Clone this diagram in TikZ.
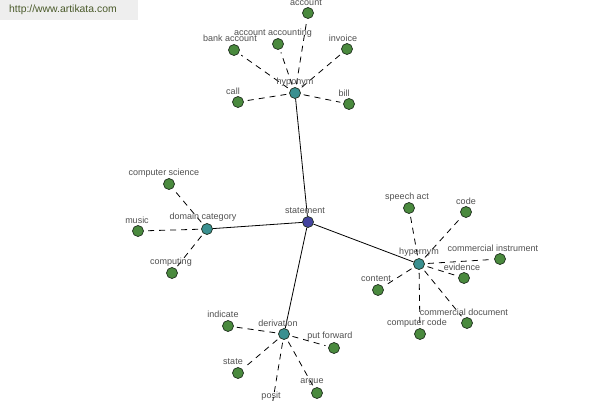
\documentclass[tikz,border=0pt]{standalone}
\usepackage{fontspec}
\setmainfont{Liberation Sans}
\definecolor{leafc}{HTML}{4A8A3E}
\definecolor{hubc}{HTML}{3A9090}
\definecolor{rootc}{HTML}{4444A0}
\definecolor{edgec}{HTML}{1E2E1E}
\definecolor{txtc}{HTML}{505050}
\definecolor{wmbg}{HTML}{EEEEEE}
\definecolor{wmtxt}{HTML}{4A5A2A}
\tikzset{
  leaf/.style={circle,draw=edgec,line width=0.7pt,fill=leafc,minimum size=11pt,inner sep=0pt},
  hub/.style={leaf,fill=hubc},
  root/.style={leaf,fill=rootc},
  lbl/.style={font=\fontsize{9}{10}\selectfont,text=txtc,inner sep=0pt},
  solidedge/.style={draw=black,line width=0.8pt},
  dashedge/.style={draw=black,line width=0.8pt,dash pattern=on 6pt off 5pt,shorten <=3pt,shorten >=3pt}
}
\begin{document}
\begin{tikzpicture}[x=1pt,y=-1pt]
\useasboundingbox (0,0) rectangle (600,400);
\clip (0,0) rectangle (600,400);
\fill[white] (0,0) rectangle (600,400);
% watermark
\node[fill=wmbg,minimum width=138pt,minimum height=20pt,inner sep=0pt,anchor=north west] (wm) at (0,0) {};
\node[font=\fontsize{10.4}{11}\selectfont,text=wmtxt,anchor=west,inner sep=0pt] (wmt) at (9,10) {http://www.artikata.com};
% nodes
\node[root] (statement) at (308,222) {};
\node[hub] (hyponym) at (295,93) {};
\node[leaf] (account) at (308,13) {};
\node[leaf] (accacc) at (278,44) {};
\node[leaf] (bankacc) at (234,50) {};
\node[leaf] (invoice) at (347,49) {};
\node[leaf] (call) at (238,102) {};
\node[leaf] (bill) at (349,104) {};
\node[hub] (domcat) at (207,229) {};
\node[leaf] (compsci) at (169,184) {};
\node[leaf] (music) at (138,231) {};
\node[leaf] (computing) at (172,273) {};
\node[hub] (hypernym) at (419,264) {};
\node[leaf] (speech) at (409,208) {};
\node[leaf] (code) at (466,212) {};
\node[leaf] (cominst) at (500,259) {};
\node[leaf] (evidence) at (464,278) {};
\node[leaf] (content) at (378,290) {};
\node[leaf] (comdoc) at (467,323) {};
\node[leaf] (compcode) at (420,334) {};
\node[hub] (derivation) at (284,334) {};
\node[leaf] (indicate) at (228,326) {};
\node[leaf] (putfwd) at (334,348) {};
\node[leaf] (state) at (238,373) {};
\node[leaf] (argue) at (317,393) {};
\node[leaf] (posit) at (271,412) {};
% edges
\path[solidedge] (statement) -- (hyponym);
\path[solidedge] (statement) -- (domcat);
\path[solidedge] (statement) -- (hypernym);
\path[solidedge] (statement) -- (derivation);
\foreach \t in {account,accacc,bankacc,invoice,call,bill}
  \path[dashedge] (hyponym) -- (\t);
\foreach \t in {compsci,music,computing}
  \path[dashedge] (domcat) -- (\t);
\foreach \t in {speech,code,cominst,evidence,content,comdoc,compcode}
  \path[dashedge] (hypernym) -- (\t);
\foreach \t in {indicate,putfwd,state,argue,posit}
  \path[dashedge] (derivation) -- (\t);
% labels
\node[lbl] (l-account) at (306,3) {account};
\node[lbl] (l-accacc) at (273,33) {account accounting};
\node[lbl] (l-bankacc) at (230,38) {bank account};
\node[lbl] (l-invoice) at (343,38) {invoice};
\node[lbl] (l-call) at (233,91) {call};
\node[lbl] (l-bill) at (344,93) {bill};
\node[lbl] (l-hyponym) at (295,82) {hyponym};
\node[lbl] (l-statement) at (305,211) {statement};
\node[lbl] (l-domcat) at (203,217) {domain category};
\node[lbl] (l-compsci) at (164,173) {computer science};
\node[lbl] (l-music) at (137,220) {music};
\node[lbl] (l-computing) at (171,262) {computing};
\node[lbl] (l-hypernym) at (419,252) {hypernym};
\node[lbl] (l-speech) at (407,197) {speech act};
\node[lbl] (l-code) at (466,201) {code};
\node[lbl] (l-cominst) at (493,248) {commercial instrument};
\node[lbl] (l-evidence) at (462,267) {evidence};
\node[lbl] (l-content) at (376,279) {content};
\node[lbl] (l-comdoc) at (464,312) {commercial document};
\node[lbl] (l-compcode) at (417,323) {computer code};
\node[lbl] (l-derivation) at (278,323) {derivation};
\node[lbl] (l-indicate) at (223,314) {indicate};
\node[lbl] (l-putfwd) at (330,336) {put forward};
\node[lbl] (l-state) at (233,362) {state};
\node[lbl] (l-argue) at (312,382) {argue};
\node[lbl] (l-posit) at (271,396) {posit};
\end{tikzpicture}
\end{document}
